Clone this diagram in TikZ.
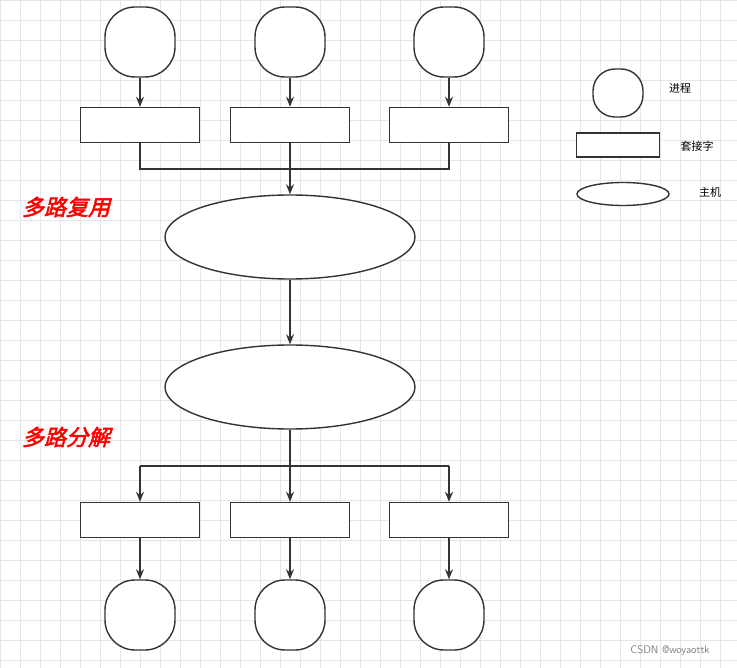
\documentclass[tikz,border=0pt]{standalone}
\usepackage{fontspec}
\newfontfamily\cjk{Noto Sans CJK SC}
\newfontfamily\cjkbi[FakeSlant=0.25,FakeBold=2.5]{Noto Sans CJK SC}
\usetikzlibrary{arrows.meta}
\definecolor{gridc}{HTML}{E6E6E6}
\definecolor{linec}{HTML}{333333}
\tikzset{
  proc/.style={draw=linec,line width=1.4pt,fill=white,minimum width=70pt,minimum height=70pt,rounded corners=30pt},
  sock/.style={draw=linec,line width=1.4pt,fill=white,minimum width=119pt,minimum height=35pt},
  host/.style={draw=linec,line width=1.4pt,fill=white,ellipse,minimum width=250pt,minimum height=84pt},
  arr/.style={draw=linec,line width=1.4pt,-{Stealth[length=10pt,width=8pt]}},
  ln/.style={draw=linec,line width=1.4pt},
}
\usetikzlibrary{shapes.geometric}
\begin{document}
\begin{tikzpicture}[x=1pt,y=-1pt]
  \useasboundingbox (0,0) rectangle (737,668);
  \fill[white] (0,0) rectangle (737,668);
  \draw[gridc,step=20pt] (0,0) grid (737,668);

  % top half
  \foreach \n/\x in {a/140,b/290,c/449}{
    \node[proc] (P\n) at (\x,42) {};
    \node[sock] (S\n) at (\x,125) {};
    \draw[arr] (P\n) -- (S\n);
  }
  \node[host] (H1) at (290,237) {};
  \coordinate (J1) at (290,169);
  \draw[ln] (Sa) |- (J1) -| (Sc);
  \draw[arr] (Sb) -- (H1);
  \node[text=red,font=\cjkbi\fontsize{22}{22}\selectfont] (mux) at (66,207) {多路复用};

  % bottom half
  \node[host] (H2) at (290,387) {};
  \draw[arr] (H1) -- (H2);
  \coordinate (J2) at (290,466);
  \draw[ln] (H2) -- (J2);
  \foreach \n/\x in {d/140,e/290,f/449}{
    \node[sock] (S\n) at (\x,520) {};
    \node[proc] (P\n) at (\x,615) {};
    \draw[arr] (J2 -| S\n) -- (S\n);
    \draw[arr] (S\n) -- (P\n);
  }
  \draw[ln] (J2 -| Sd) -- (J2 -| Sf);
  \node[text=red,font=\cjkbi\fontsize{22}{22}\selectfont] (demux) at (66,437) {多路分解};

  % legend
  \node[proc,minimum width=50pt,minimum height=48pt,rounded corners=22pt] (Lp) at (618,93) {};
  \node[sock,minimum width=83pt,minimum height=24pt] (Ls) at (618,145) {};
  \node[host,minimum width=92pt,minimum height=23pt] (Lh) at (623,194) {};
  \node[font=\cjk\fontsize{11}{11}\selectfont] (tp) at (680,88) {进程};
  \node[font=\cjk\fontsize{11}{11}\selectfont] (ts) at (697,146) {套接字};
  \node[font=\cjk\fontsize{11}{11}\selectfont] (th) at (710,192) {主机};

  \node[text=gray,font=\sffamily\fontsize{11}{11}\selectfont] (wm) at (670,651) {CSDN @woyaottk};
\end{tikzpicture}
\end{document}
